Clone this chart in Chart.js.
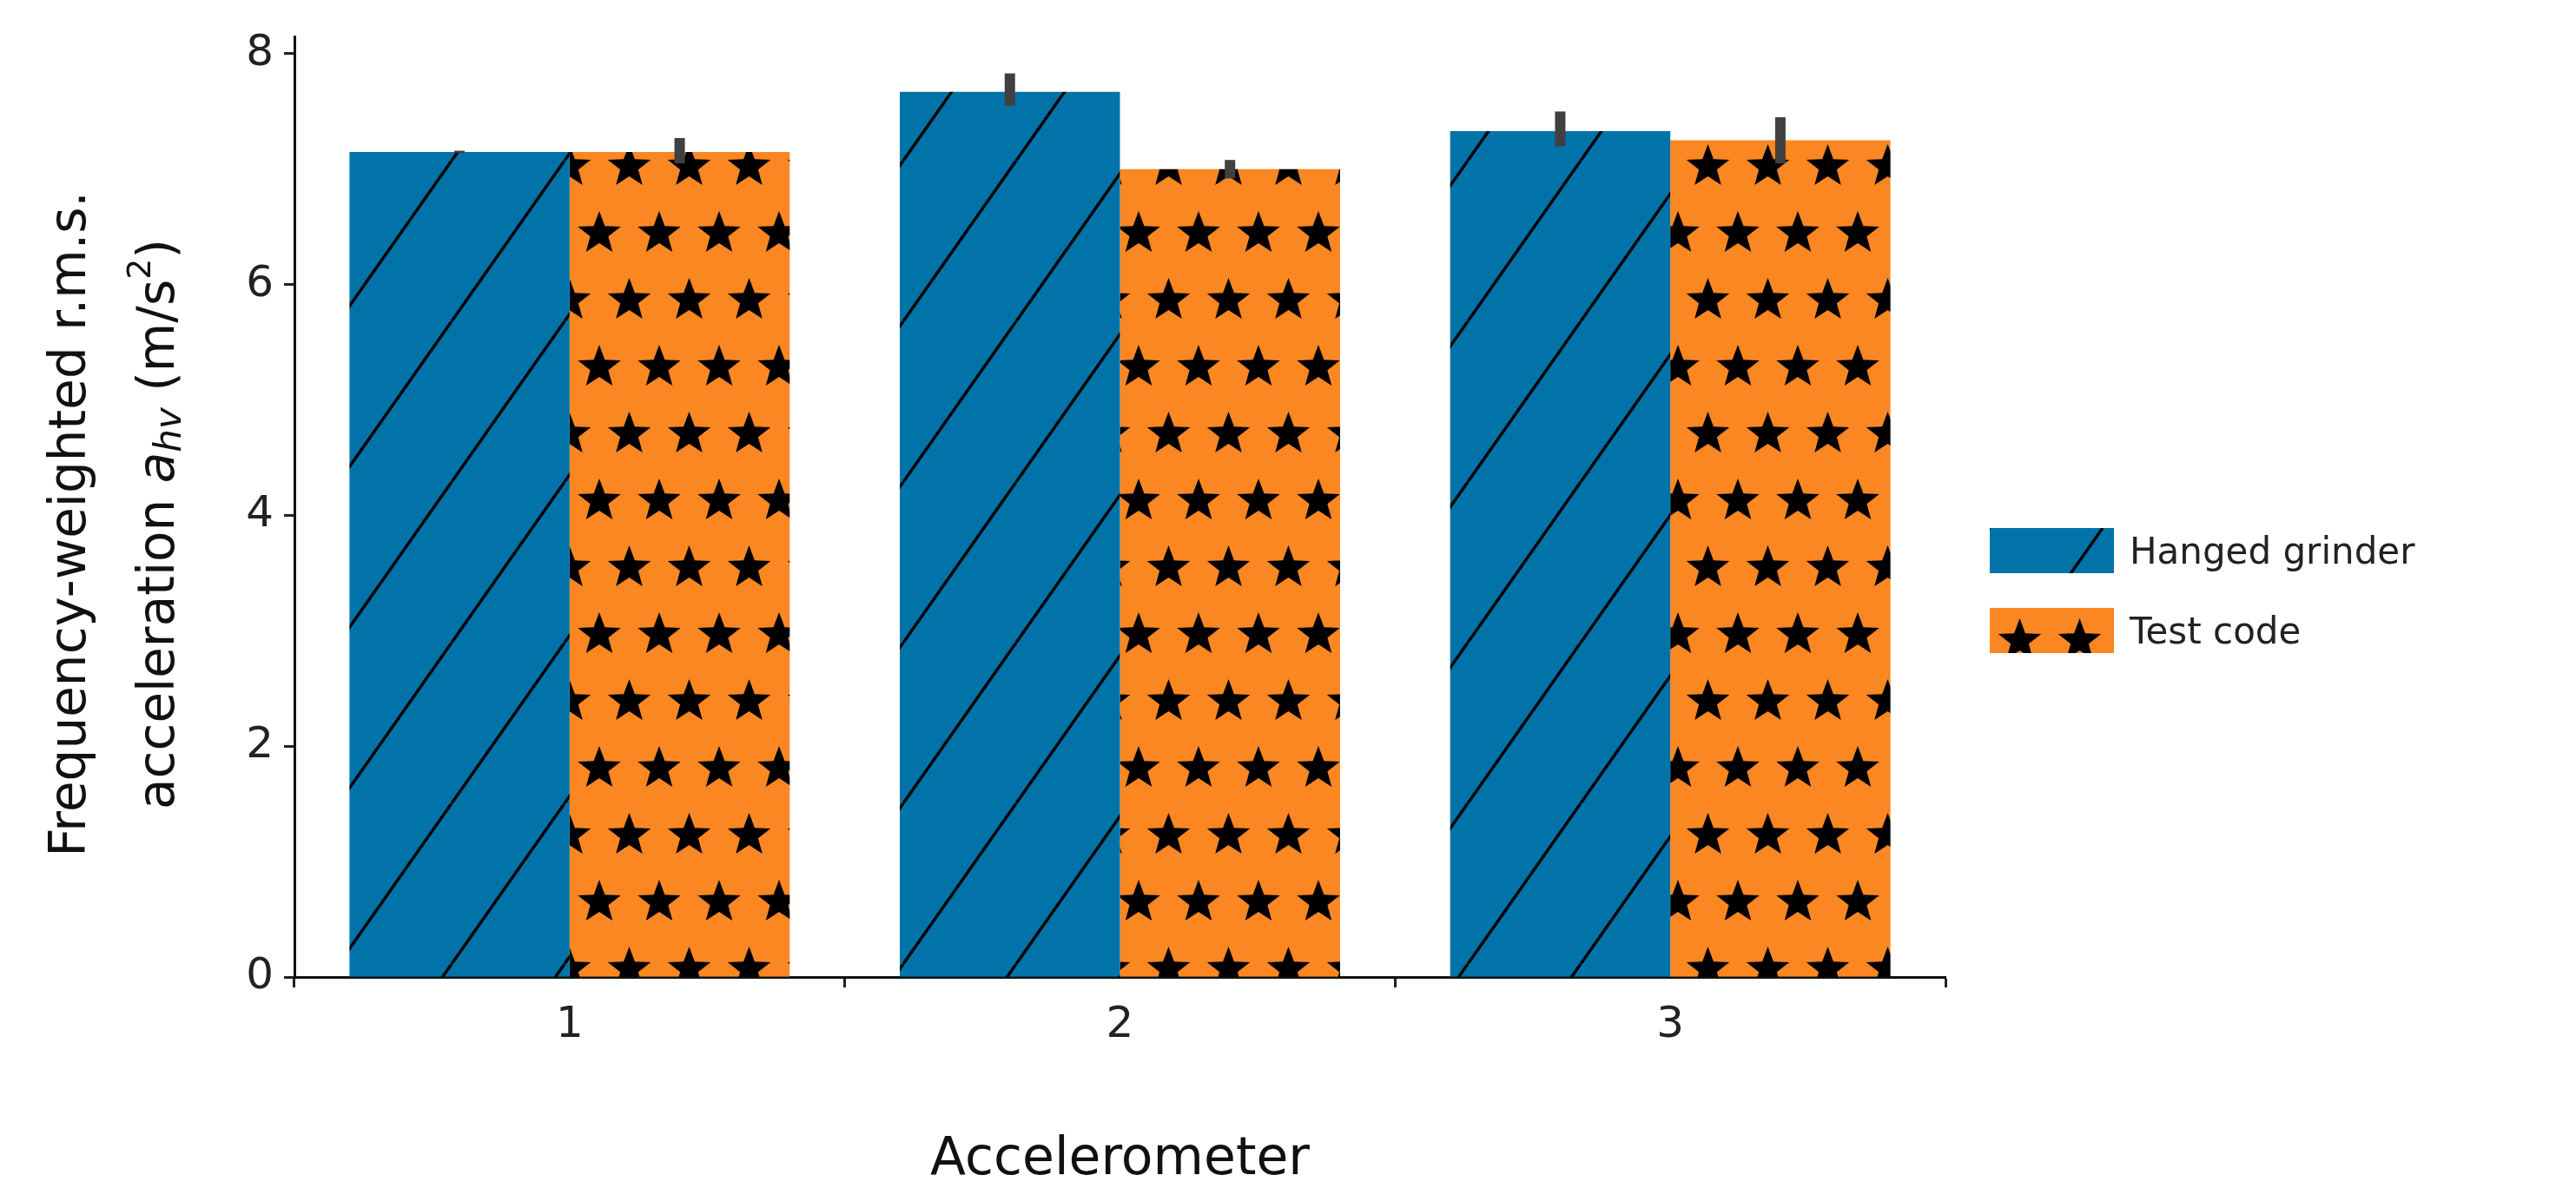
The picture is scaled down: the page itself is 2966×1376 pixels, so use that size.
<!DOCTYPE html>
<html><head><meta charset="utf-8">
<script src="https://cdn.jsdelivr.net/npm/chart.js@4/dist/chart.umd.min.js"></script>
<style>html,body{margin:0;padding:0;background:#fff}canvas{display:block}</style>
</head><body>
<div style="width:2966px;height:1376px"><canvas id="c" width="2966" height="1376"></canvas></div>
<script>
const categories = ['1', '2', '3'];
const seriesNames = ['Hanged grinder', 'Test code'];
const grinderValues = [7.15, 7.67, 7.33];
const grinderErrLow = [7.14, 7.55, 7.20];
const grinderErrHigh = [7.16, 7.83, 7.50];
const testValues = [7.15, 7.00, 7.25];
const testErrLow = [7.05, 6.92, 7.05];
const testErrHigh = [7.27, 7.08, 7.45];
const yTicks = [0, 2, 4, 6, 8];

const FONT = "'DejaVu Sans', sans-serif";
const BLUE = '#0173a8', ORANGE = '#fb8722';

function hatchPattern() {
  const c = document.createElement('canvas'); c.width = 130; c.height = 185;
  const g = c.getContext('2d');
  g.fillStyle = BLUE; g.fillRect(0, 0, 130, 185);
  g.strokeStyle = '#000'; g.lineWidth = 3.5;
  for (const o of [-1, 0, 1]) {
    g.beginPath(); g.moveTo(o*130, 185); g.lineTo(o*130 + 130, 0); g.stroke();
  }
  return g.createPattern(c, 'repeat');
}
function star(g, cx, cy, R) {
  const r = R * 0.42;
  g.beginPath();
  for (let i = 0; i < 10; i++) {
    const a = -Math.PI/2 + i*Math.PI/5, rr = i % 2 ? r : R;
    g.lineTo(cx + rr*Math.cos(a), cy + rr*Math.sin(a));
  }
  g.closePath(); g.fill();
}
function starPattern() {
  const w = 69, h = 154;
  const c = document.createElement('canvas'); c.width = w; c.height = h;
  const g = c.getContext('2d');
  g.fillStyle = ORANGE; g.fillRect(0, 0, w, h);
  g.fillStyle = '#000';
  const R = 26;
  for (const [x, y] of [[w/2, 38], [0, 38+77], [w, 38+77], [w/2, 38+154], [0, 38-77], [w, 38-77]]) star(g, x, y, R);
  return g.createPattern(c, 'repeat');
}
const pats = [hatchPattern(), starPattern()];

const errPlugin = {
  id: 'err',
  afterDatasetsDraw(chart) {
    const ctx = chart.ctx, y = chart.scales.y;
    const lows = [grinderErrLow, testErrLow], highs = [grinderErrHigh, testErrHigh];
    ctx.save(); ctx.strokeStyle = '#404040'; ctx.lineWidth = 12; ctx.lineCap = 'butt';
    for (let d = 0; d < 2; d++) {
      chart.getDatasetMeta(d).data.forEach((bar, i) => {
        ctx.beginPath(); ctx.moveTo(bar.x, y.getPixelForValue(lows[d][i]));
        ctx.lineTo(bar.x, y.getPixelForValue(highs[d][i])); ctx.stroke();
      });
    }
    ctx.restore();
  },
  afterDraw(chart) {
    const ctx = chart.ctx, ca = chart.chartArea;
    ctx.save();
    // legend
    const lx = 2291, ly = [608, 700], bw = 143, bh = 52;
    ctx.font = `42px ${FONT}`; ctx.fillStyle = '#222'; ctx.textBaseline = 'middle';
    for (let i = 0; i < 2; i++) {
      ctx.save(); ctx.translate(lx, ly[i]); ctx.fillStyle = pats[i]; ctx.fillRect(0, 0, bw, bh); ctx.restore();
      ctx.fillStyle = '#222'; ctx.fillText(seriesNames[i], lx + bw + 18, ly[i] + bh/2 + 4);
    }
    // y title
    const cy = (ca.top + ca.bottom) / 2 + 20;
    ctx.translate(83, cy); ctx.rotate(-Math.PI/2);
    ctx.textAlign = 'center'; ctx.textBaseline = 'middle'; ctx.fillStyle = '#111';
    ctx.font = `58px ${FONT}`;
    ctx.fillText('Frequency-weighted r.m.s.', 0, 0);
    // second line with rich parts
    const parts = [
      ['acceleration ', `58px ${FONT}`, 0],
      ['a', `italic 58px ${FONT}`, 0],
      ['hv', `italic 42px ${FONT}`, 12],
      [' (m/s', `58px ${FONT}`, 0],
      ['2', `38px ${FONT}`, -22],
      [')', `58px ${FONT}`, 0]
    ];
    let tot = 0;
    for (const p of parts) { ctx.font = p[1]; tot += ctx.measureText(p[0]).width; }
    let x = -tot/2; ctx.textAlign = 'left';
    for (const p of parts) { ctx.font = p[1]; ctx.fillText(p[0], x, 102 + p[2]); x += ctx.measureText(p[0]).width; }
    ctx.restore();
  }
};

new Chart(document.getElementById('c'), {
  type: 'bar',
  data: {
    labels: categories,
    datasets: [
      { label: seriesNames[0], data: grinderValues, backgroundColor: pats[0], borderWidth: 0, barPercentage: 1, categoryPercentage: 0.8 },
      { label: seriesNames[1], data: testValues, backgroundColor: pats[1], borderWidth: 0, barPercentage: 1, categoryPercentage: 0.8 }
    ]
  },
  options: {
    responsive: false, animation: false, devicePixelRatio: 1,
    layout: { padding: { top: 33, right: 726, left: 0, bottom: 0 } },
    plugins: { legend: { display: false }, tooltip: { enabled: false } },
    scales: {
      x: {
        grid: { display: true, drawOnChartArea: false, drawTicks: true, tickLength: 12, color: '#222', tickWidth: 3 },
        border: { display: true, color: '#111', width: 3 },
        ticks: { color: '#222', font: { family: FONT, size: 50 }, padding: 14 },
        title: { display: true, text: 'Accelerometer', color: '#111', font: { family: FONT, size: 60 }, padding: { top: 10 } },
        afterFit(s) { s.height = 251; }
      },
      y: {
        min: 0, max: 8.15,
        afterBuildTicks(s) { s.ticks = yTicks.map(v => ({ value: v })); },
        grid: { display: true, drawOnChartArea: false, drawTicks: true, tickLength: 12, color: '#222', tickWidth: 3 },
        border: { display: true, color: '#111', width: 3 },
        ticks: { color: '#222', font: { family: FONT, size: 50 }, padding: 12 },
        afterFit(s) { s.width = 339; }
      }
    }
  },
  plugins: [errPlugin]
});
</script>
</body></html>
